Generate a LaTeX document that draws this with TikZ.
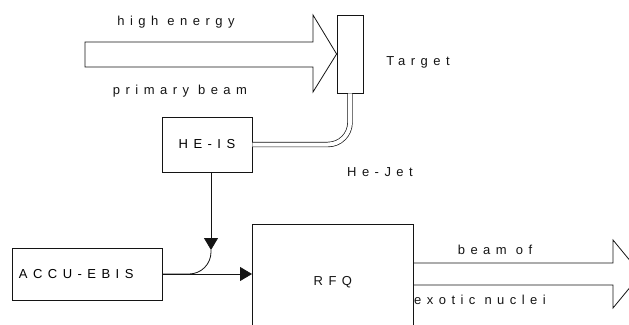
\documentclass[tikz,border=0pt]{standalone}
\usepackage{fontspec}
\setmainfont{Liberation Sans}[LetterSpace=42]
\usetikzlibrary{positioning,arrows.meta}
\definecolor{Ink}{RGB}{20,20,20}

\begin{document}
\begin{tikzpicture}[x=1pt,y=-1pt,
    box/.style={rectangle,draw=Ink,line width=0.8pt,inner sep=0pt,font=\fontsize{13}{15}\selectfont},
    arrow/.style={-{Triangle[width=14pt,length=12pt]},line width=0.8pt,Ink},
    pipe/.style={double=white,double distance=4pt,line width=0.7pt,Ink,rounded corners=22pt},
    beam/.style={line width=0.8pt,Ink,line join=miter},
    lbl/.style={font=\fontsize{13}{15}\selectfont,Ink,inner sep=0pt}
]
\useasboundingbox (0,0) rectangle (629,324);
\clip (0,0) rectangle (629,324);

% Target and incoming primary beam
\node[box,minimum width=26,minimum height=78] (target) at (350,54) {};
\node[lbl] (tgtlbl) at (418,62) {Target};
\draw[beam] (85,42) -- (313,42) -- (313,15) -- (target.west)
    -- (313,92) -- (313,67) -- (85,67) -- cycle;
\node[lbl] (he) at (176,22) {high energy};
\node[lbl] (pb) at (180,91) {primary beam};

% HE-IS with He-Jet
\node[box,minimum width=90,minimum height=55] (heis) at (207,144.5) {HE-IS};
\draw[pipe] (target.south) |- (heis.east);
\node[lbl] (jet) at (380,172) {He-Jet};

% ACCU-EBIS
\node[box,minimum width=150,minimum height=52,text width=136,align=left] (accu) at (87,274) {ACCU-EBIS};
\coordinate (merge) at (211,250);
\draw[arrow] ([xshift=4pt]heis.south) -- (merge);
\draw[beam,rounded corners=22pt] (merge) |- (accu.east);

% RFQ
\node[box,minimum width=161,minimum height=176,anchor=north west] (rfq) at (252,224) {};
\node[lbl,below=52pt of rfq.north] (rfqlbl) {RFQ};
\draw[arrow] (accu.east) -- (accu.east -| rfq.west);

% Outgoing beam
\draw[beam] ([yshift=11pt]accu.east -| rfq.east) -- (613,263) -- (613,240) -- (641,274)
    -- (613,308) -- (613,285) -- ([yshift=-11pt]accu.east -| rfq.east);
\node[lbl] (bo) at (495,250) {beam of};
\node[lbl] (en) at (480,300) {exotic nuclei};

\end{tikzpicture}
\end{document}
